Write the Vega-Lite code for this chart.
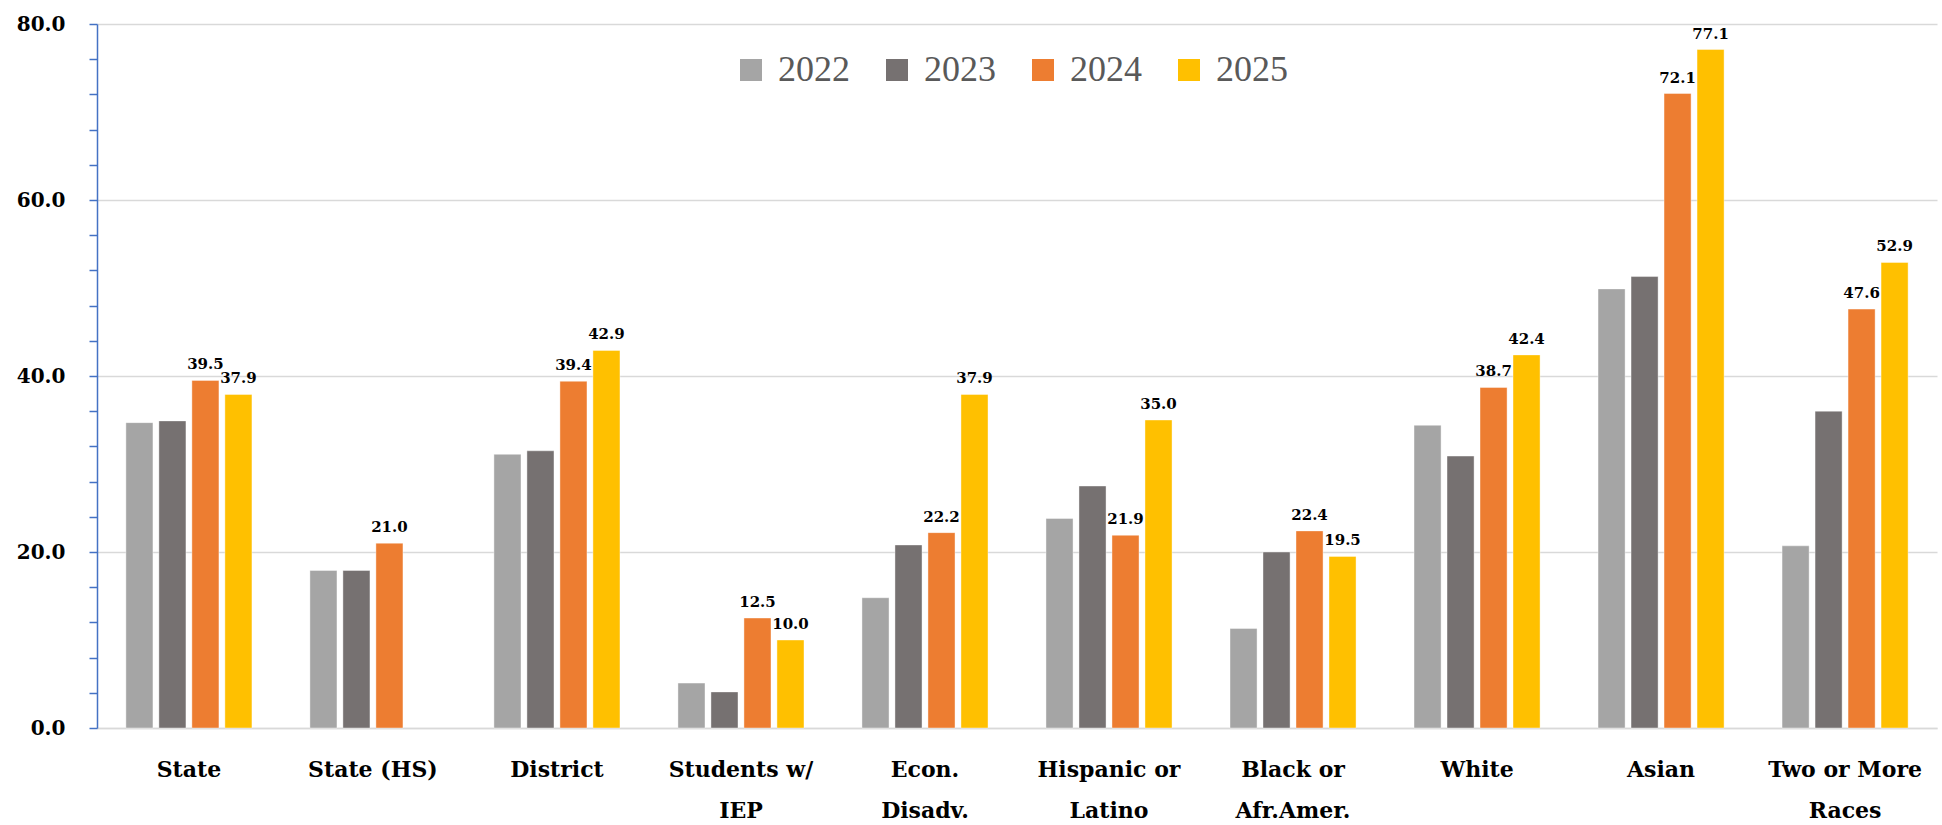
{
  "$schema": "https://vega.github.io/schema/vega-lite/v6.json",
  "autosize": "none",
  "width": 1840,
  "height": 704,
  "padding": {"left": 97, "top": 24, "right": 5, "bottom": 97},
  "background": "white",
  "config": {"view": {"stroke": null}},
  "data": {"values": [
    {"cat": "State", "year": "2022", "value": 34.7},
    {"cat": "State", "year": "2023", "value": 34.9},
    {"cat": "State", "year": "2024", "value": 39.5},
    {"cat": "State", "year": "2025", "value": 37.9},
    {"cat": "State (HS)", "year": "2022", "value": 17.9},
    {"cat": "State (HS)", "year": "2023", "value": 17.9},
    {"cat": "State (HS)", "year": "2024", "value": 21.0},
    {"cat": "District", "year": "2022", "value": 31.1},
    {"cat": "District", "year": "2023", "value": 31.5},
    {"cat": "District", "year": "2024", "value": 39.4},
    {"cat": "District", "year": "2025", "value": 42.9},
    {"cat": "Students w/|IEP", "year": "2022", "value": 5.1},
    {"cat": "Students w/|IEP", "year": "2023", "value": 4.1},
    {"cat": "Students w/|IEP", "year": "2024", "value": 12.5},
    {"cat": "Students w/|IEP", "year": "2025", "value": 10.0},
    {"cat": "Econ.|Disadv.", "year": "2022", "value": 14.8},
    {"cat": "Econ.|Disadv.", "year": "2023", "value": 20.8},
    {"cat": "Econ.|Disadv.", "year": "2024", "value": 22.2},
    {"cat": "Econ.|Disadv.", "year": "2025", "value": 37.9},
    {"cat": "Hispanic or|Latino", "year": "2022", "value": 23.8},
    {"cat": "Hispanic or|Latino", "year": "2023", "value": 27.5},
    {"cat": "Hispanic or|Latino", "year": "2024", "value": 21.9},
    {"cat": "Hispanic or|Latino", "year": "2025", "value": 35.0},
    {"cat": "Black or|Afr.Amer.", "year": "2022", "value": 11.3},
    {"cat": "Black or|Afr.Amer.", "year": "2023", "value": 20.0},
    {"cat": "Black or|Afr.Amer.", "year": "2024", "value": 22.4},
    {"cat": "Black or|Afr.Amer.", "year": "2025", "value": 19.5},
    {"cat": "White", "year": "2022", "value": 34.4},
    {"cat": "White", "year": "2023", "value": 30.9},
    {"cat": "White", "year": "2024", "value": 38.7},
    {"cat": "White", "year": "2025", "value": 42.4},
    {"cat": "Asian", "year": "2022", "value": 49.9},
    {"cat": "Asian", "year": "2023", "value": 51.3},
    {"cat": "Asian", "year": "2024", "value": 72.1},
    {"cat": "Asian", "year": "2025", "value": 77.1},
    {"cat": "Two or More|Races", "year": "2022", "value": 20.7},
    {"cat": "Two or More|Races", "year": "2023", "value": 36.0},
    {"cat": "Two or More|Races", "year": "2024", "value": 47.6},
    {"cat": "Two or More|Races", "year": "2025", "value": 52.9}
  ]},
  "encoding": {
    "x": {
      "field": "cat", "type": "nominal", "sort": null, "title": null,
      "scale": {"paddingInner": 0.315, "paddingOuter": 0.157},
      "axis": {
        "labelAngle": 0,
        "labelExpr": "split(datum.label, '|')",
        "labelFont": "DejaVu Serif", "labelFontWeight": "bold", "labelFontSize": 22,
        "labelColor": "#000000", "labelLineHeight": 41, "labelPadding": 31,
        "ticks": false, "domainColor": "#D9D9D9", "domainWidth": 1.5
      }
    },
    "xOffset": {"field": "year", "type": "nominal", "scale": {"paddingInner": 0.18}},
    "y": {
      "field": "value", "type": "quantitative", "title": null,
      "scale": {"domain": [0, 80], "nice": false},
      "axis": {
        "values": [0, 4, 8, 12, 16, 20, 24, 28, 32, 36, 40, 44, 48, 52, 56, 60, 64, 68, 72, 76, 80],
        "labelExpr": "datum.value % 20 === 0 ? format(datum.value, '.1f') : ''",
        "labelFont": "DejaVu Serif", "labelFontWeight": "bold", "labelFontSize": 20,
        "labelColor": "#000000", "labelPadding": 24,
        "domainColor": "#4472C4", "domainWidth": 1.5,
        "tickColor": "#4472C4", "tickWidth": 1.5, "tickSize": 8,
        "grid": true, "gridColor": "#D9D9D9", "gridWidth": 1.5,
        "gridOpacity": {"condition": {"test": "datum.value % 20 === 0", "value": 1}, "value": 0},
        "encode": {"ticks": {"update": {
          "x": {"value": 8},
          "x2": {"value": -8}
        }}}
      }
    }
  },
  "layer": [
    {
      "mark": {"type": "bar", "stroke": "#FFFFFF", "strokeWidth": 0.8, "strokeOpacity": 0.5},
      "encoding": {
        "color": {
          "field": "year", "type": "nominal", "title": null,
          "scale": {"domain": ["2022", "2023", "2024", "2025"], "range": ["#A5A5A5", "#767171", "#ED7D31", "#FFC000"]},
          "legend": {
            "orient": "none", "direction": "horizontal", "legendX": 636, "legendY": 28,
            "symbolType": "square", "symbolSize": 484, "symbolStrokeWidth": 0, "symbolOpacity": 1,
            "labelFont": "Liberation Serif", "labelFontSize": 36, "labelColor": "#595959",
            "labelOffset": 9, "columnPadding": 29, "labelLimit": 200
          }
        }
      }
    },
    {
      "transform": [{"filter": "datum.year === '2024' || datum.year === '2025'"}],
      "mark": {"type": "text", "baseline": "bottom", "dy": -8, "font": "DejaVu Serif", "fontWeight": "bold", "fontSize": 15, "color": "#000000"},
      "encoding": {
        "text": {"field": "value", "type": "quantitative", "format": ".1f"}
      }
    }
  ]
}
